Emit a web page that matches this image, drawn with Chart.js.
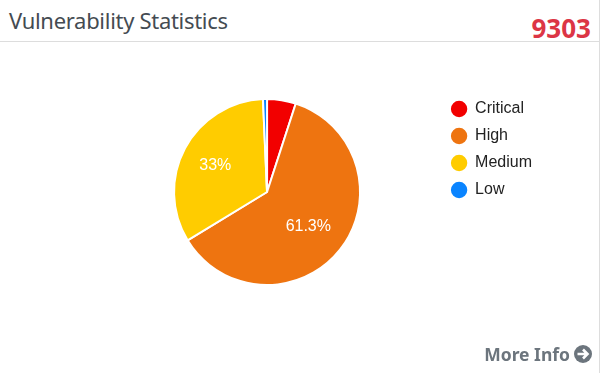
<!DOCTYPE html>
<html><head><meta charset="utf-8">
<script src="https://cdn.jsdelivr.net/npm/chart.js@4"></script>
<style>
html,body{margin:0;padding:0;background:#fff;overflow:hidden}
#card{position:relative;width:599px;height:373px;border-right:1px solid #ddd;background:#fff}
#title{position:absolute;left:9px;top:5px;font:22px/30px "Noto Sans",sans-serif;color:#444b52;letter-spacing:-.3px}
#total{position:absolute;right:8px;top:11px;font:bold 26px/34px "Noto Sans",sans-serif;color:#dc3545}
#rule{position:absolute;left:0;top:41px;width:599px;height:1px;background:#ddd}
#wrap{position:absolute;left:0;top:42px;width:600px;height:300px}
#more{position:absolute;right:7px;top:341px;font:bold 17.5px/26px "Noto Sans",sans-serif;color:#6c757d;display:flex;align-items:center;gap:4px}
</style></head><body>
<div id="card">
<div id="title">Vulnerability Statistics</div>
<div id="total">9303</div>
<div id="rule"></div>
<div id="wrap"><canvas id="c"></canvas></div>
<div id="more">More Info <svg width="18" height="18" viewBox="0 0 18 18"><circle cx="9" cy="9" r="9" fill="#6c757d"/><path d="M3.5 9H13M9 4.5L13.5 9L9 13.5" stroke="#fff" stroke-width="2.6" fill="none"/></svg></div>
</div>
<script>
const categories = ["Critical","High","Medium","Low"];
const values = [5, 61.3, 33, 0.7];
const colors = ["#f20000","#ee7410","#ffcc00","#0a84ff"];
const shownLabels = ["", "61.3%", "33%", ""];
const sliceLabels = {
  id:"sliceLabels",
  afterDatasetsDraw(chart){
    const ctx = chart.ctx, arcs = chart.getDatasetMeta(0).data;
    ctx.save();
    ctx.font = '16px "Liberation Sans", Arial, sans-serif';
    ctx.fillStyle = "#fff"; ctx.textAlign = "center"; ctx.textBaseline = "middle";
    arcs.forEach((a,i)=>{
      if(!shownLabels[i]) return;
      const mid = (a.startAngle+a.endAngle)/2, r = a.outerRadius*0.6;
      ctx.fillText(shownLabels[i], a.x-2.5+Math.cos(mid)*r, a.y+Math.sin(mid)*r);
    });
    ctx.restore();
  }
};
new Chart(document.getElementById("c"),{
  type:"pie",
  data:{labels:categories,datasets:[{data:values,backgroundColor:colors,borderColor:"#fff",borderWidth:2,radius:93}]},
  options:{
    responsive:true,maintainAspectRatio:false,animation:false,
    layout:{padding:{left:94,right:58,top:48,bottom:48}},
    plugins:{
      tooltip:{enabled:false},
      legend:{position:"right",align:"start",
        labels:{usePointStyle:true,pointStyle:"circle",boxWidth:16,boxHeight:13,padding:11,color:"#222",
          font:{family:'"Liberation Sans", Arial, sans-serif',size:16}}}
    }
  },
  plugins:[sliceLabels]
});
</script>
</body></html>
